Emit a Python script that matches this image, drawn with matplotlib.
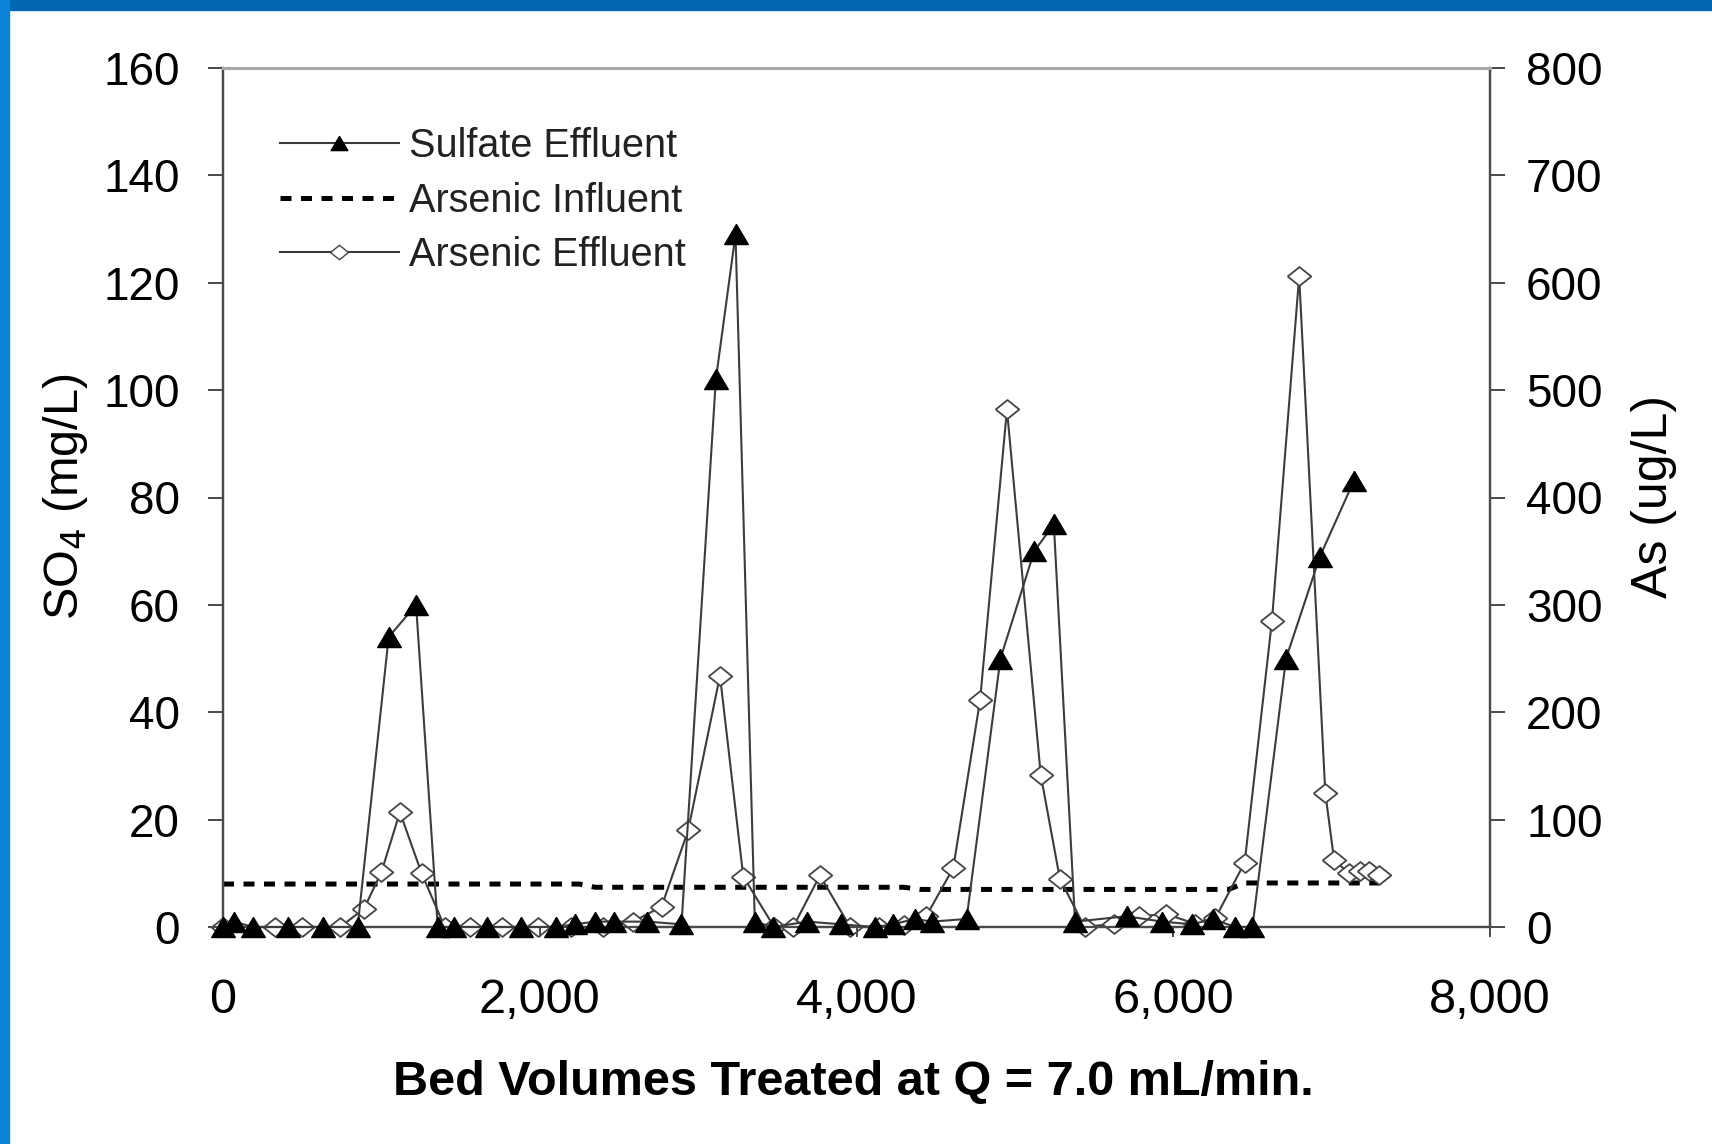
import matplotlib
matplotlib.use("Agg")
import matplotlib.pyplot as plt
from matplotlib.patches import Rectangle
from matplotlib.lines import Line2D

# Sulfate effluent (mg/L) vs bed volumes
sulfate_bv = [0, 70, 190, 410, 630, 850, 1046, 1219, 1356, 1460, 1670, 1880,
              2100, 2220, 2350, 2470, 2680, 2895, 3112, 3236, 3358, 3470, 3690,
              3905, 4115, 4230, 4370, 4475, 4695, 4909, 5122, 5246, 5380, 5705,
              5930, 6120, 6250, 6390, 6500, 6712, 6926, 7139]
sulfate_mgL = [0, 1, 0, 0, 0, 0, 54, 60, 0, 0, 0, 0,
               0, 0.5, 1, 1, 1, 0.5, 102, 129, 1, 0, 1,
               0.5, 0, 0.5, 1.5, 1, 1.5, 50, 70, 75, 1, 2,
               1, 0.5, 1.5, 0, 0, 50, 69, 83]

# Arsenic influent (ug/L)
influent_bv = [0, 2250, 2350, 4300, 4400, 6350, 6450, 7300]
influent_ugL = [40, 40, 37, 37, 35, 35, 41, 41]

# Arsenic effluent (ug/L)
arsenic_bv = [0, 330, 500, 740, 890, 1000, 1117, 1254, 1400, 1560, 1760, 1990,
              2200, 2400, 2590, 2769, 2937, 3138, 3285, 3480, 3600, 3769, 3960,
              4140, 4300, 4440, 4611, 4780, 4950, 5163, 5284, 5440, 5625, 5783,
              5955, 6140, 6265, 6451, 6623, 6795, 6960, 7016, 7112, 7181, 7236,
              7298]
arsenic_ugL = [0, 0, 0, 0, 17, 51, 107, 50, 0, 0, 0, 0,
               0, 0, 5, 19, 90, 234, 47, 0, 0, 48, 0,
               0, 2, 10, 55, 211, 482, 142, 45, 0, 3, 10,
               12, 3, 8, 60, 285, 606, 125, 62, 50, 52, 52,
               48]

x_ticks = [0, 2000, 4000, 6000, 8000]
x_tick_labels = ["0", "2,000", "4,000", "6,000", "8,000"]
so4_ticks = [0, 20, 40, 60, 80, 100, 120, 140, 160]
as_ticks = [0, 100, 200, 300, 400, 500, 600, 700, 800]

sans = ["Liberation Sans", "DejaVu Sans"]

tri = [(0, 0.85), (-1, -0.85), (1, -0.85), (0, 0.85)]
dia = [(-1, 0), (0, 0.8), (1, 0), (0, -0.8), (-1, 0)]

fig = plt.figure(figsize=(17.12, 11.44), dpi=100)
fig.patch.set_facecolor("white")
fig.patches.append(Rectangle((0, 1 - 10 / 1144), 1, 10 / 1144, transform=fig.transFigure,
                             color="#0067b0", zorder=0))
fig.patches.append(Rectangle((0, 0), 9 / 1712, 1, transform=fig.transFigure,
                             color="#0a82d6", zorder=0))

ax = fig.add_axes([223 / 1712, 217 / 1144, 1267 / 1712, 859 / 1144])
ax2 = ax.twinx()
# sulfate markers sit on top of the arsenic series
ax.set_zorder(ax2.get_zorder() + 1)
ax.patch.set_visible(False)

line_col = "#3c3c3c"
s_line, = ax.plot(sulfate_bv, sulfate_mgL, color=line_col, lw=1.5, marker=tri,
                  ms=17, mfc="black", mec="black", zorder=3, clip_on=False)
i_line, = ax2.plot(influent_bv, influent_ugL, color="black", lw=3.6,
                   dashes=(2.2, 1.9), zorder=2)
a_line, = ax2.plot(arsenic_bv, arsenic_ugL, color=line_col, lw=1.5, marker=dia,
                   ms=17, mfc="white", mec="#444444", mew=1.3, zorder=4, clip_on=False)

ax.set_xlim(0, 8000)
ax.set_ylim(0, 160)
ax2.set_ylim(0, 800)
ax.set_xticks(x_ticks)
ax.set_xticklabels(x_tick_labels)
ax.set_yticks(so4_ticks)
ax2.set_yticks(as_ticks)

for a in (ax, ax2):
    for side in ("left", "right", "bottom"):
        a.spines[side].set_color("#4a4a4a")
        a.spines[side].set_linewidth(1.6)
    a.spines["top"].set_color("#a8a8a8")
    a.spines["top"].set_linewidth(2.2)

ax.tick_params(axis="y", direction="out", length=11, width=1.4, pad=20, colors="#4a4a4a",
               labelcolor="black")
ax2.tick_params(axis="y", direction="out", length=11, width=1.4, pad=15, colors="#4a4a4a",
                labelcolor="black")
ax.tick_params(axis="x", direction="out", length=7, width=1.4, pad=30, colors="#4a4a4a",
               labelcolor="black")
for lab in ax.get_yticklabels() + ax2.get_yticklabels():
    lab.set_fontfamily(sans)
    lab.set_fontsize(33)
for lab in ax.get_xticklabels():
    lab.set_fontfamily(sans)
    lab.set_fontsize(35)

fig.text(853 / 1712, 1 - 1083 / 1144, "Bed Volumes Treated at Q = 7.0 mL/min.",
         ha="center", va="center", family=sans, weight="bold", fontsize=35)
fig.text(65 / 1712, 1 - 497 / 1144, "SO$_4$ (mg/L)", rotation=90, ha="center",
         va="center", family=sans, fontsize=35)
fig.text(1654 / 1712, 1 - 496 / 1144, "As (ug/L)", rotation=90, ha="center",
         va="center", family=sans, fontsize=36)

handles = [
    Line2D([], [], color=line_col, lw=1.5, marker=tri, ms=12, mfc="black", mec="black"),
    Line2D([], [], color="black", lw=3.6, dashes=(2.2, 1.9)),
    Line2D([], [], color=line_col, lw=1.5, marker=dia, ms=13, mfc="white", mec="#444444"),
]
labels = ["Sulfate Effluent", "Arsenic Influent", "Arsenic Effluent"]
leg = ax.legend(handles, labels, loc="upper left",
                bbox_to_anchor=(280 / 1712, 1 - 127 / 1144),
                bbox_transform=fig.transFigure, frameon=False,
                prop=dict(family=sans, size=28.5), handlelength=3.0,
                handletextpad=0.25, labelspacing=0.42, borderaxespad=0,
                borderpad=0, numpoints=1)
for t in leg.get_texts():
    t.set_color("#222222")

fig.savefig("out.png", dpi=100)
